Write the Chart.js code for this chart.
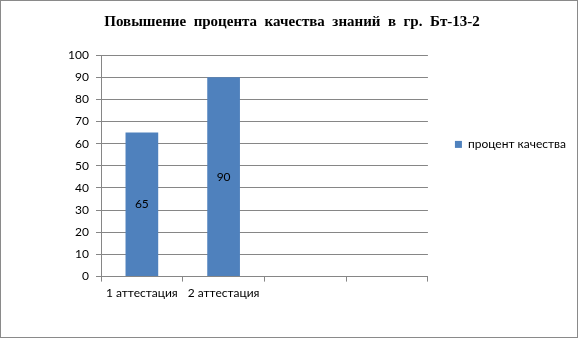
<!DOCTYPE html>
<html><head><meta charset="utf-8">
<script src="https://cdn.jsdelivr.net/npm/chart.js@4"></script>
<style>
html,body{margin:0;padding:0;background:#fff;}
#wrap{position:relative;width:578px;height:338px;}
#frame{position:absolute;left:0;top:0;width:578px;height:338px;box-sizing:border-box;border:1px solid #8a8a8a;pointer-events:none;}
canvas{display:block;}
</style></head><body>
<div id="wrap"><canvas id="c" width="578" height="338"></canvas><div id="frame"></div></div>
<script>
const titleText = 'Повышение  процента  качества  знаний  в  гр.  Бт-13-2';
const categories = ['1 аттестация', '2 аттестация', '', ''];
const seriesName = 'процент качества';
const seriesValues = [65, 90, null, null];
const yMin = 0, yMax = 100, yStep = 10;

const labelFont = {family: 'Lato, "Liberation Sans", sans-serif', size: 12};
const gridColor = '#868686';

const barValueLabels = {
  id: 'barValueLabels',
  afterDatasetsDraw(chart) {
    const ctx = chart.ctx;
    chart.data.datasets.forEach((ds, i) => {
      const meta = chart.getDatasetMeta(i);
      meta.data.forEach((bar, j) => {
        const v = ds.data[j];
        if (v == null) return;
        const p = bar.getProps(['x', 'y', 'base'], true);
        ctx.save();
        ctx.font = labelFont.size + 'px ' + labelFont.family;
        ctx.fillStyle = '#000';
        ctx.textAlign = 'center';
        ctx.textBaseline = 'middle';
        ctx.fillText(String(v), p.x, (p.y + p.base) / 2);
        ctx.restore();
      });
    });
  }
};

new Chart(document.getElementById('c'), {
  type: 'bar',
  data: {
    labels: categories,
    datasets: [{
      label: seriesName,
      data: seriesValues,
      backgroundColor: '#4F81BD',
      borderWidth: 0,
      barPercentage: 0.4,
      categoryPercentage: 1.0
    }]
  },
  options: {
    responsive: false,
    animation: false,
    layout: {padding: {left: 8, right: 2, top: 0, bottom: 34}},
    plugins: {
      title: {
        display: true, text: titleText, color: '#000',
        font: {family: '"Liberation Serif", "Times New Roman", serif', size: 15, weight: 'bold'},
        padding: {top: 13, bottom: 24}
      },
      legend: {
        position: 'right', align: 'start', maxWidth: 220,
        title: {display: true, text: '', padding: {top: 97, bottom: 0}, font: {size: 12}},
        labels: {boxWidth: 7, boxHeight: 7, padding: 27, color: '#000', font: labelFont}
      },
      tooltip: {enabled: false}
    },
    scales: {
      x: {
        grid: {display: true, drawOnChartArea: false, drawTicks: true, tickLength: 5, color: gridColor, offset: true},
        border: {display: true, color: gridColor},
        ticks: {color: '#000', font: labelFont, padding: 4, maxRotation: 0, autoSkip: false}
      },
      y: {
        min: yMin, max: yMax,
        afterFit(scale) { scale.width = 93; },
        ticks: {stepSize: yStep, color: '#000', font: labelFont, padding: 7},
        grid: {color: gridColor, tickLength: 5},
        border: {color: gridColor}
      }
    }
  },
  plugins: [barValueLabels]
});
</script>
</body></html>
